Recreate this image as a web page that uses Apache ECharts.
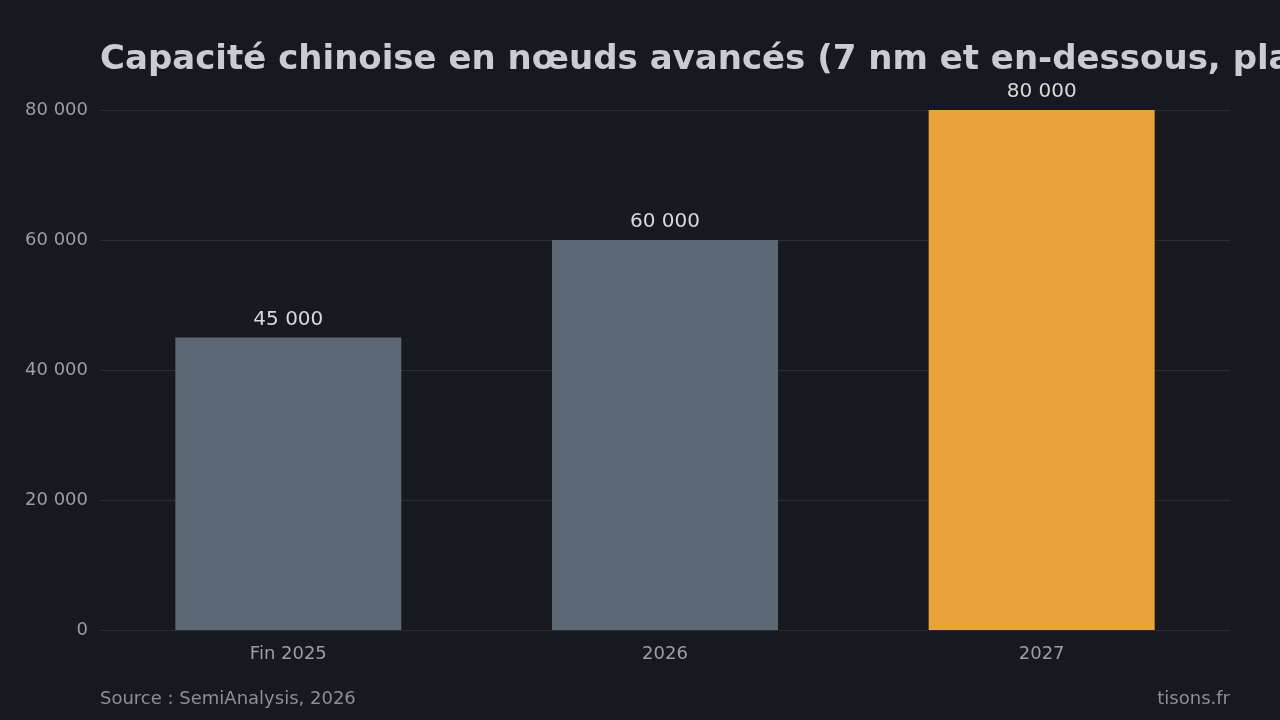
<!DOCTYPE html>
<html>
<head>
<meta charset="utf-8">
<script src="https://cdn.jsdelivr.net/npm/echarts@6/dist/echarts.min.js"></script>
<style>
  html, body { margin: 0; padding: 0; background: #17191e; }
  #chart { width: 1280px; height: 720px; }
</style>
</head>
<body>
<div id="chart"></div>
<script>
// données
var categories = ['Fin 2025', '2026', '2027'];
var capacite = [45000, 60000, 80000];
var barColors = ['#5c6873', '#5c6873', '#e8a33d'];
var yTicks = [0, 20000, 40000, 60000, 80000];

function fmt(v) {
    return String(v).replace(/\B(?=(\d{3})+(?!\d))/g, ' ');
}

var chart = echarts.init(document.getElementById('chart'));

var option = {
    backgroundColor: '#17191e',
    textStyle: { fontFamily: 'DejaVu Sans' },
    title: {
        text: 'Capacité chinoise en nœuds avancés (7 nm et en-dessous, plaquettes/mois)',
        left: 95,
        top: 38,
        textStyle: { color: '#c9ccd1', fontSize: 34, fontWeight: 'bold', fontFamily: 'DejaVu Sans' }
    },
    graphic: [
        {
            type: 'text', left: 100, top: 690,
            style: { text: 'Source : SemiAnalysis, 2026', fill: '#8b9098', fontSize: 18, fontFamily: 'DejaVu Sans' }
        },
        {
            type: 'text', right: 50, top: 690,
            style: { text: 'tisons.fr', fill: '#8b9098', fontSize: 18, fontFamily: 'DejaVu Sans' }
        }
    ],
    grid: { left: 100, right: 50, top: 110, bottom: 90, containLabel: false },
    xAxis: {
        type: 'category',
        data: categories,
        axisLine: { show: false },
        axisTick: { show: false },
        axisLabel: { color: '#9a9ea6', fontSize: 18, margin: 15 }
    },
    yAxis: {
        type: 'value',
        min: yTicks[0],
        max: yTicks[yTicks.length - 1],
        interval: 20000,
        axisLine: { show: false },
        axisTick: { show: false },
        axisLabel: { color: '#9a9ea6', fontSize: 18, margin: 12, formatter: fmt },
        splitLine: { lineStyle: { color: '#2a2d33', width: 1 } }
    },
    series: [
        {
            type: 'bar',
            barWidth: '60%',
            data: capacite.map(function (v, i) {
                return { value: v, itemStyle: { color: barColors[i] } };
            }),
            label: {
                show: true,
                position: 'top',
                distance: 8,
                color: '#d6d8dc',
                fontSize: 20,
                formatter: function (p) { return fmt(p.value); }
            }
        }
    ]
};

chart.setOption(option);
</script>
</body>
</html>
